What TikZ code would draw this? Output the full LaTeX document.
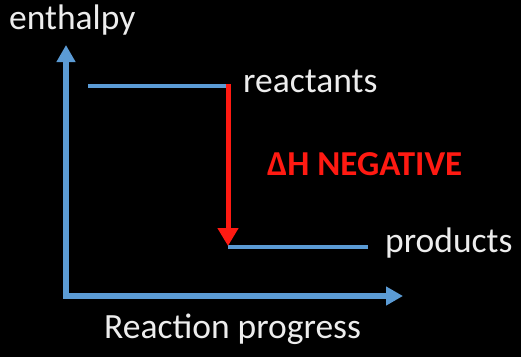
\documentclass[tikz,border=0pt]{standalone}
\usepackage{fontspec}
\setmainfont{Carlito}
\usetikzlibrary{arrows.meta}
\definecolor{axisblue}{HTML}{5B9BD5}
\definecolor{deltared}{HTML}{FF1A12}
\definecolor{labelwhite}{HTML}{EDEDED}
\begin{document}
\begin{tikzpicture}[x=1pt,y=-1pt,
  axisline/.style={draw=axisblue,line width=5.5pt,line join=miter,
    {Triangle[length=17pt,width=18pt]}-{Triangle[length=17pt,width=18pt]}},
  levelline/.style={draw=axisblue,line width=4.5pt},
  deltaarrow/.style={draw=deltared,line width=5pt,
    -{Triangle[length=18pt,width=20pt]}},
  label/.style={text=labelwhite,inner sep=0pt,anchor=base west,
    font=\fontsize{35.5}{42}\selectfont},
  deltalabel/.style={text=deltared,inner sep=0pt,anchor=base west,
    font=\fontsize{35}{42}\selectfont\bfseries}]
  % background and page size
  \fill[black] (0,0) rectangle (521,357);
  \useasboundingbox (0,0) rectangle (521,357);

  % axes
  \coordinate (ytip) at (66,45);
  \coordinate (origin) at (66,296);
  \coordinate (xtip) at (403,296);
  \draw[axisline] (ytip) -- (origin) -- (xtip);

  % energy levels
  \coordinate (rstart) at (88,86);
  \coordinate (rend) at (229,86);
  \coordinate (pstart) at (228,247);
  \coordinate (pend) at (368,247);
  \draw[levelline] (rstart) -- (rend);
  \draw[levelline] (pstart) -- (pend);

  % enthalpy change
  \coordinate (dtop) at (228,84);
  \coordinate (dbottom) at (228,246);
  \draw[deltaarrow] (dtop) -- (dbottom);

  % labels
  \node[label] (enthalpy) at (9,29) {enthalpy};
  \node[label] (reactants) at (243,92) {reactants};
  \node[label] (products) at (385,252) {products};
  \node[label] (progress) at (104,338) {Reaction progress};
  \node[deltalabel] (deltaH) at (267,175) {ΔH NEGATIVE};
\end{tikzpicture}
\end{document}
